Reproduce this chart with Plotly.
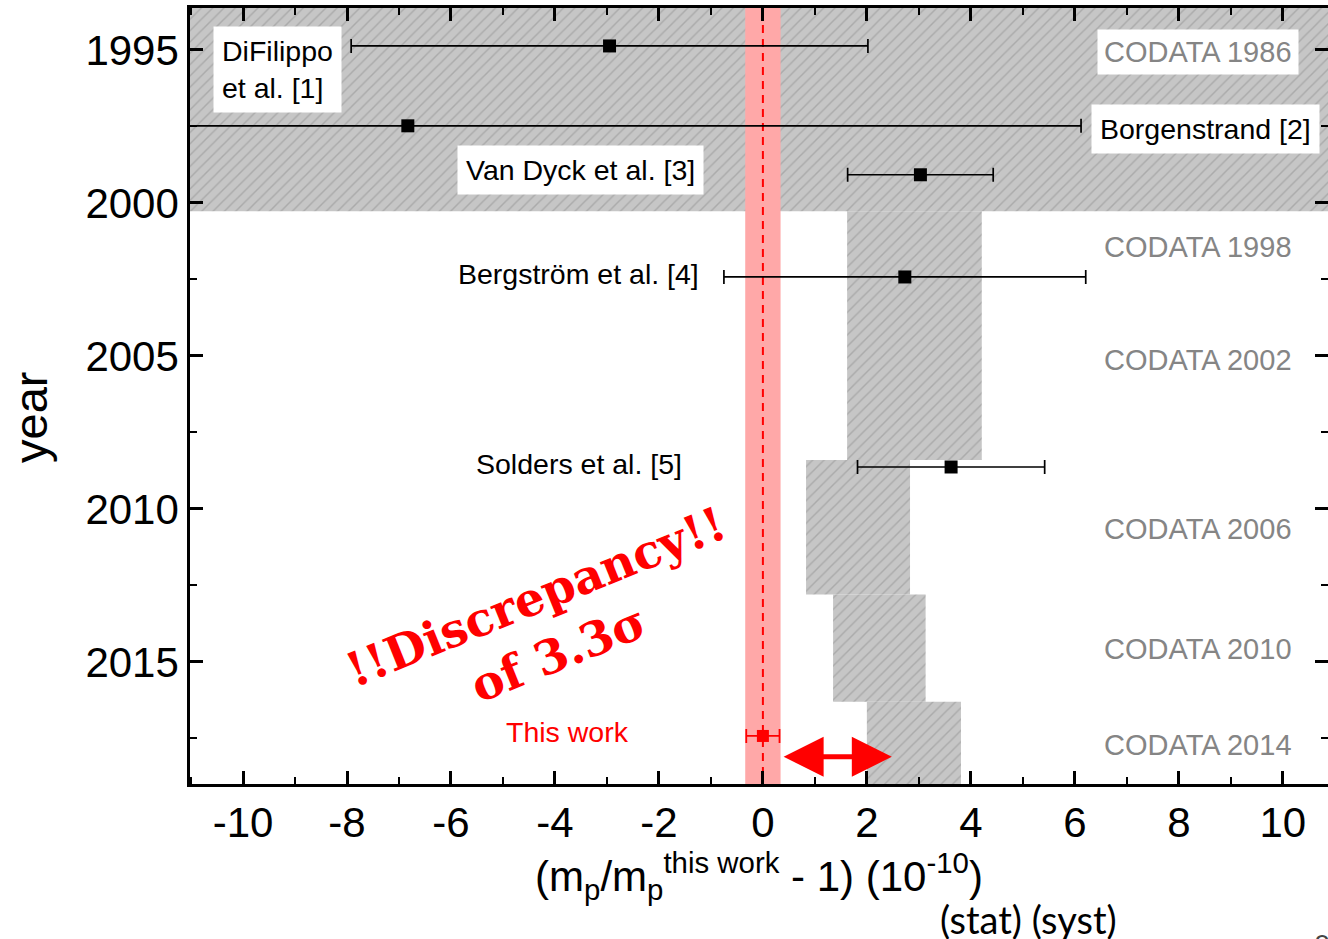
import plotly.graph_objects as go

# ---------------- data ----------------
meas_names = ["DiFilippo<br>et al. [1]", "Borgenstrand [2]", "Van Dyck et al. [3]",
              "Bergström et al. [4]", "Solders et al. [5]"]
meas_year = [1994.87, 1997.48, 1999.08, 2002.42, 2008.63]
meas_value = [-2.95, -6.83, 3.03, 2.73, 3.62]
meas_err = [4.97, 12.95, 1.40, 3.48, 1.80]

this_year = [2017.42]
this_value = [0.0]
this_err = [0.32]
this_band = 0.34

codata_names = ["CODATA 1986", "CODATA 1998", "CODATA 2002", "CODATA 2006", "CODATA 2010", "CODATA 2014"]
band_from = [1986.0, 2000.27, 2008.4, 2012.8, 2016.3]
band_to = [2000.27, 2008.4, 2012.8, 2016.3, 2020.0]
band_low = [-30.0, 1.62, 0.83, 1.35, 2.00]
band_high = [30.0, 4.21, 2.83, 3.13, 3.81]

x_ticks = [-10, -8, -6, -4, -2, 0, 2, 4, 6, 8, 10]
y_ticks = [1995, 2000, 2005, 2010, 2015]

# ---------------- layout positions (not data) ----------------
meas_label_pos = [(-9.33, 1995.65), (8.52, 1997.58), (-3.5, 1998.92), (-3.54, 2002.32), (-3.54, 2008.53)]
meas_label_box = [True, True, True, False, False]
codata_label_pos = [(8.37, 1995.07), (8.37, 2001.44), (8.37, 2005.13), (8.37, 2010.65), (8.37, 2014.58), (8.37, 2017.71)]

FONT = "Liberation Sans, Arial, sans-serif"
L, R, T, B = 190, 0, 8, 155
W, H = 1328, 939
PW, PH = W - L - R, H - T - B

fig = go.Figure()

# hatched CODATA bands
for y0, y1, lo, hi in zip(band_from, band_to, band_low, band_high):
    fig.add_trace(go.Scatter(
        x=[lo, hi, hi, lo, lo], y=[y0, y0, y1, y1, y0],
        mode="lines", fill="toself", fillcolor="#c6c6c6",
        fillpattern=dict(shape="/", fgcolor="#8e8e8e", bgcolor="#c6c6c6", size=8, solidity=0.18),
        line=dict(width=0), hoverinfo="skip", showlegend=False))

# red band of this work
fig.add_trace(go.Scatter(
    x=[this_value[0] - this_band, this_value[0] + this_band, this_value[0] + this_band,
       this_value[0] - this_band, this_value[0] - this_band],
    y=[1980, 1980, 2030, 2030, 1980],
    mode="lines", fill="toself", fillcolor="#ffa8a8", line=dict(width=0),
    hoverinfo="skip", showlegend=False))
fig.add_trace(go.Scatter(
    x=[this_value[0], this_value[0]], y=[1980, 2030], mode="lines",
    line=dict(color="#ff0000", width=2, dash="8px,6px"), hoverinfo="skip", showlegend=False))

# measurements
fig.add_trace(go.Scatter(
    x=meas_value, y=meas_year, mode="markers",
    marker=dict(symbol="square", size=13, color="black"),
    error_x=dict(type="data", array=meas_err, color="black", thickness=1.7, width=7),
    showlegend=False))
fig.add_trace(go.Scatter(
    x=this_value, y=this_year, mode="markers",
    marker=dict(symbol="square", size=12, color="#ff0000"),
    error_x=dict(type="data", array=this_err, color="#ff0000", thickness=1.8, width=7),
    showlegend=False))

# labels
for name, (lx, ly), box in zip(meas_names, meas_label_pos, meas_label_box):
    fig.add_annotation(x=lx, y=ly, text=name, showarrow=False,
                       font=dict(family=FONT, size=28.5, color="black"),
                       bgcolor="white" if box else None, borderpad=8, align="left")
for i, (name, (lx, ly)) in enumerate(zip(codata_names, codata_label_pos)):
    fig.add_annotation(x=lx, y=ly, text=name, showarrow=False,
                       font=dict(family=FONT, size=29, color="#858585"),
                       bgcolor="white" if i == 0 else None, borderpad=6)

fig.add_annotation(x=-3.75, y=2017.29, text="This work", showarrow=False,
                   font=dict(family=FONT, size=28.5, color="#ff0000"))

fig.add_annotation(x=-4.15, y=2013.8, text="!!Discrepancy!!<br>of 3.3σ", showarrow=False,
                   textangle=-22,
                   font=dict(family="DejaVu Serif, serif", size=47,
                             color="#ff0000", weight="bold"))

# double arrow
fig.add_annotation(x=2.48, y=2018.1, ax=0.37, ay=2018.1, axref="x", ayref="y",
                   xref="x", yref="y", text="", showarrow=True,
                   arrowside="end+start", arrowhead=2, startarrowhead=2,
                   arrowsize=1.6, startarrowsize=1.6, arrowwidth=5, arrowcolor="#ff0000")

# y axis title (placed like the reference, slightly below plot centre)
fig.add_annotation(xref="paper", yref="paper", x=(30 - L) / PW, y=((H - B) - 418) / PH,
                   xanchor="center", yanchor="middle", textangle=-90,
                   text="year", showarrow=False,
                   font=dict(family=FONT, size=47, color="black"))

# subscript note under axis title
fig.add_annotation(xref="paper", yref="paper", x=(1028 - L) / PW, y=-(919 - (H - B)) / PH,
                   xanchor="center", yanchor="middle",
                   text="(stat) (syst)", showarrow=False,
                   font=dict(family="Lato, Open Sans, sans-serif", size=38, color="black"))
fig.add_annotation(xref="paper", yref="paper", x=(1322 - L) / PW, y=-(926 - (H - B)) / PH,
                   xanchor="center", yanchor="top", text="8", showarrow=False,
                   font=dict(family="Lato, Open Sans, sans-serif", size=28, color="#444"))

axis_common = dict(showline=True, linecolor="black", linewidth=2.5, mirror="ticks",
                   ticks="inside", ticklen=13, tickwidth=2.5, tickcolor="black",
                   showgrid=False, zeroline=False, automargin=False,
                   tickfont=dict(family=FONT, size=42, color="black"))

fig.update_xaxes(range=[-11.02, 10.87], tickvals=x_ticks,
                 ticktext=[str(v) for v in x_ticks],
                 minor=dict(tickmode="linear", tick0=0, dtick=1, ticks="inside", ticklen=7,
                            tickwidth=2, tickcolor="black"),
                 title=dict(text="(m<sub>p</sub>/m<sub>p</sub><sup>this work</sup> - 1) (10<sup>-10</sup>)",
                            font=dict(family=FONT, size=42, color="black"), standoff=4),
                 **axis_common)
fig.update_yaxes(range=[2018.99, 1993.63], tickvals=y_ticks,
                 minor=dict(tickmode="linear", tick0=1995, dtick=2.5, ticks="inside", ticklen=7,
                            tickwidth=2, tickcolor="black"),
                 **axis_common)

fig.update_layout(width=W, height=H, margin=dict(l=L, r=R, t=T, b=B),
                  plot_bgcolor="white", paper_bgcolor="white", showlegend=False)

fig.write_html("out.html", config={"displayModeBar": False},
               post_script="document.body.style.margin='0';document.body.style.overflow='hidden';")
